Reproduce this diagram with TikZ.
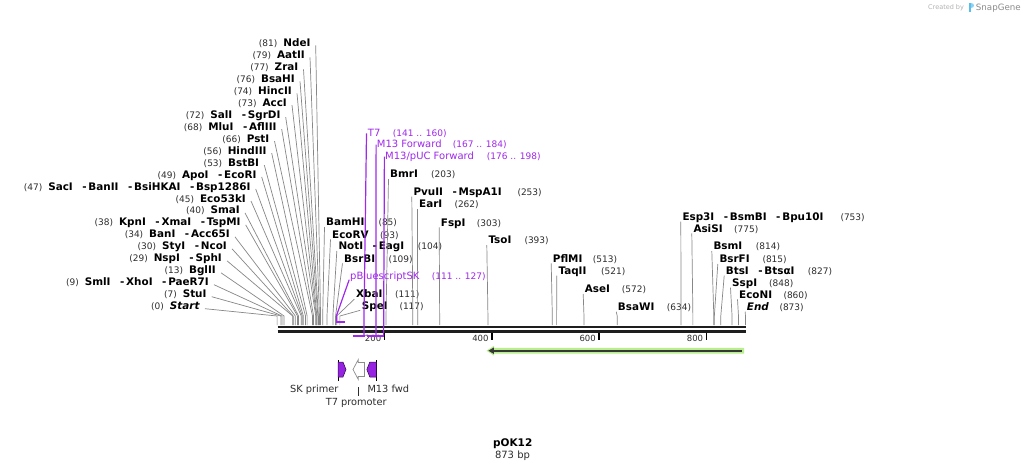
\documentclass[tikz,border=0pt]{standalone}
\usepackage{fontspec}
\setmainfont{DejaVu Sans}
\usetikzlibrary{arrows.meta}
\definecolor{numc}{RGB}{45,45,45}
\definecolor{sitec}{RGB}{135,135,135}
\definecolor{prim}{RGB}{160,40,235}
\definecolor{primfill}{RGB}{150,35,225}
\definecolor{orfg}{RGB}{185,238,140}
\definecolor{orfd}{RGB}{55,55,55}
\definecolor{bb}{RGB}{30,30,30}
\definecolor{logoblue}{RGB}{90,190,235}
\tikzset{
  nm/.style={inner sep=0pt, font=\fontsize{10.4}{12}\selectfont\bfseries, text=black},
  nb/.style={inner sep=0pt, font=\fontsize{9}{10}\selectfont, text=numc},
  sl/.style={draw=sitec, line width=0.7pt},
  pl/.style={draw=prim, line width=1.2pt},
  ptx/.style={inner sep=0pt, font=\fontsize{10}{12}\selectfont, text=prim},
  pnx/.style={inner sep=0pt, font=\fontsize{9}{10}\selectfont, text=prim},
  ftx/.style={inner sep=0pt, font=\fontsize{9.8}{12}\selectfont, text=numc},
  tk/.style={draw=black, line width=1.6pt},
  tkl/.style={inner sep=0pt, font=\fontsize{8.5}{10}\selectfont, text=numc, anchor=base east},
}
\newcommand\numsm[1]{{\color{numc}\fontsize{9}{10}\selectfont\mdseries (#1)}}
\newcommand\sepd{\hspace{9.5pt}-\hspace{1.8pt}}
% id, right x, y, number, names, bp
\newcommand\leftsite[6]{%
  \node[nm, anchor=base east] (#1) at (#2,#3+3.7) {\numsm{#4}\hspace{6pt}#5};
  \coordinate (#1s) at ({277.1+0.5365*#6},316);
  \coordinate (#1b) at ({277.1+0.5365*#6},325);
  \draw[sl] ([xshift=5pt,yshift=1pt]#1.base east) -- (#1s) -- (#1b);
}
% id, left x, y, names, num x, number, bp
\newcommand\rightsite[7]{%
  \node[nm, anchor=base west] (#1) at (#2,#3+3.7) {#4};
  \node[nb, anchor=base west] (#1n) at (#5,#3+3.7) {(#6)};
  \coordinate (#1s) at ({277.1+0.5365*#7},316);
  \coordinate (#1b) at ({277.1+0.5365*#7},325);
  \draw[sl] ([xshift=-1.5pt,yshift=-1.3pt]#1.base west) -- (#1s) -- (#1b);
}
\begin{document}
\begin{tikzpicture}[x=1pt,y=-1pt]
\useasboundingbox (0,0) rectangle (1025,472);
\fill[white] (0,0) rectangle (1025,472);

% ---- left fan of sites
\leftsite{ndei}{310.7}{42.7}{81}{NdeI}{81}
\leftsite{aatii}{305}{54.7}{79}{AatII}{79}
\leftsite{zrai}{298.5}{66.6}{77}{ZraI}{77}
\leftsite{bsahi}{295}{78.6}{76}{BsaHI}{76}
\leftsite{hincii}{292}{90.6}{74}{HincII}{74}
\leftsite{acci}{287}{102.5}{73}{AccI}{73}
\leftsite{sali}{280.7}{114.5}{72}{SalI\sepd SgrDI}{72}
\leftsite{mlui}{276.7}{126.5}{68}{MluI\sepd AflIII}{68}
\leftsite{psti}{269.5}{138.4}{66}{PstI}{66}
\leftsite{hindiii}{266.7}{150.4}{56}{HindIII}{56}
\leftsite{bstbi}{259.3}{162.4}{53}{BstBI}{53}
\leftsite{apoi}{256.7}{174.3}{49}{ApoI\sepd EcoRI}{49}
\leftsite{saci}{250.7}{186.3}{47}{SacI\sepd BanII\sepd BsiHKAI\sepd Bsp1286I}{47}
\leftsite{ecoki}{246}{198.3}{45}{Eco53kI}{45}
\leftsite{smai}{240}{210.2}{40}{SmaI}{40}
\leftsite{kpni}{240.7}{222.2}{38}{KpnI\sepd XmaI\sepd TspMI}{38}
\leftsite{bani}{230}{234.2}{34}{BanI\sepd Acc65I}{34}
\leftsite{styi}{227}{246.1}{30}{StyI\sepd NcoI}{30}
\leftsite{nspi}{222}{258.1}{29}{NspI\sepd SphI}{29}
\leftsite{bglii}{216}{270.1}{13}{BglII}{13}
\leftsite{smli}{209}{282}{9}{SmlI\sepd XhoI\sepd PaeR7I}{9}
\leftsite{stui}{206.7}{294}{7}{StuI}{7}
\leftsite{start}{200}{306}{0}{\textit{Start}}{0}

% ---- right-hand sites
\rightsite{bamhi}{326}{222}{BamHI}{378.3}{85}{85}
\rightsite{ecorv}{332}{234.3}{EcoRV}{380}{93}{93}
\rightsite{noti}{338.3}{246}{NotI\sepd EagI}{417.7}{104}{104}
\rightsite{bsrbi}{344}{258.3}{BsrBI}{388.3}{109}{109}
\rightsite{xbai}{356}{294}{XbaI}{395}{111}{111}
\rightsite{spei}{361.7}{305.3}{SpeI}{399.3}{117}{117}
\rightsite{bmri}{390}{174}{BmrI}{431}{203}{203}
\rightsite{pvuii}{413.3}{191.7}{PvuII\sepd MspA1I}{517.3}{253}{253}
\rightsite{eari}{419}{204}{EarI}{454.3}{262}{262}
\rightsite{fspi}{440.7}{222.3}{FspI}{476.7}{303}{303}
\rightsite{tsoi}{488.3}{240}{TsoI}{524.3}{393}{393}
\rightsite{pflmi}{552.7}{258.3}{PflMI}{592.7}{513}{513}
\rightsite{taqii}{558.3}{270.7}{TaqII}{601}{521}{521}
\rightsite{asei}{584.7}{289}{AseI}{621.7}{572}{572}
\rightsite{bsawi}{617.7}{306.7}{BsaWI}{666.7}{634}{634}
\rightsite{espi}{682.3}{216.7}{Esp3I\sepd BsmBI\sepd Bpu10I}{840.3}{753}{753}
\rightsite{asisi}{693.3}{228.3}{AsiSI}{734}{775}{775}
\rightsite{bsmi}{713.3}{246}{BsmI}{755.7}{814}{814}
\rightsite{bsrfi}{719.3}{259}{BsrFI}{762.3}{815}{815}
\rightsite{btsi}{725.7}{270.7}{BtsI\sepd BtsαI}{807.7}{827}{827}
\rightsite{sspi}{732}{282.7}{SspI}{769}{848}{848}
\rightsite{econi}{739}{294.3}{EcoNI}{783.3}{860}{860}
\rightsite{endl}{746.7}{306.7}{\textit{End}}{779.3}{873}{873}

% ---- backbone
\coordinate (bbl1) at (277.5,327);
\coordinate (bbr1) at (746,327);
\coordinate (bbl2) at (277.5,331.3);
\coordinate (bbr2) at (746,331.3);
\draw[bb, line width=2.8pt] (bbl1) -- (bbr1);
\draw[bb, line width=2.8pt] (bbl2) -- (bbr2);

% ---- ruler ticks
\foreach \t in {200,400,600,800}{
  \coordinate (tka\t) at ({277.1+0.5365*\t},332.5);
  \coordinate (tkb\t) at ({277.1+0.5365*\t},339.5);
  \draw[tk] (tka\t) -- (tkb\t);
  \node[tkl] (tkl\t) at ({277.1+0.5365*\t-3},341.3) {\t};
}

% ---- primer-binding features (purple)
\node[ptx, anchor=base west] (t7) at (367.7,136.4) {T7};
\node[pnx, anchor=base west] (t7n) at (392.7,136.4) {(141 .. 160)};
\node[ptx, anchor=base west] (m13) at (376.7,147.7) {M13 Forward};
\node[pnx, anchor=base west] (m13n) at (452.7,147.7) {(167 .. 184)};
\node[ptx, anchor=base west] (m13p) at (385,159.7) {M13/pUC Forward};
\node[pnx, anchor=base west] (m13pn) at (486.7,159.7) {(176 .. 198)};
\node[ptx, anchor=base west] (pbs) at (350,279.7) {pBluescriptSK};
\node[pnx, anchor=base west] (pbsn) at (431.7,279.7) {(111 .. 127)};

\coordinate (t7a) at (364,316); \coordinate (t7b) at (364,336); \coordinate (t7c) at (352.7,336);
\draw[pl] ([xshift=-1.2pt,yshift=3pt]t7.base west) -- (t7a) -- (t7b);
\draw[draw=prim, line width=2pt] (t7c) -- ([xshift=0.6pt]t7b);
\coordinate (m13a) at (376,336); \coordinate (m13c) at (366.7,336);
\draw[pl] ([xshift=-0.6pt,yshift=3pt]m13.base west) -- (m13a);
\draw[draw=prim, line width=2pt] (m13c) -- ([xshift=0.6pt]m13a);
\coordinate (m13pa) at (383.6,336); \coordinate (m13pc) at (371.5,336);
\draw[pl] ([xshift=-0.6pt,yshift=3pt]m13p.base west) -- (m13pa);
\draw[draw=prim, line width=2pt] (m13pc) -- ([xshift=0.6pt]m13pa);
\coordinate (pbsa) at (336.7,315); \coordinate (pbsb) at (336.7,322); \coordinate (pbsc) at (345.2,322);
\draw[pl] ([xshift=-0.8pt,yshift=0pt]pbs.base west) -- (pbsa) -- (pbsb);
\draw[draw=prim, line width=2pt] ([xshift=-0.6pt]pbsb) -- (pbsc);

% ---- ORF arrow
\fill[orfg] (744,347.9) -- (494,347.9) -- (494,345.8) -- (486.5,350.7) -- (494,355.6) -- (494,353.5) -- (744,353.5) -- cycle;
\coordinate (orfr) at (742,350.7);
\coordinate (orfl) at (488.3,350.7);
\draw[orfd, line width=2pt, -{Triangle[length=5.5pt,width=6pt]}] (orfr) -- (orfl);

% ---- small features below
\draw[black, line width=0.8pt] (338,360) -- (338,381);
\filldraw[fill=primfill, draw=black!70!primfill, line width=0.5pt] (338,362) -- (343,362) -- (346,369.5) -- (343,377) -- (338,377) -- cycle;
\filldraw[fill=white, draw=black!45, line width=0.7pt] (353,369.5) -- (358.3,359.5) -- (358.3,362.5) -- (364.5,362.5) -- (364.5,376.5) -- (358.3,376.5) -- (358.3,379.5) -- cycle;
\draw[black, line width=0.8pt] (376.4,360) -- (376.4,381);
\filldraw[fill=primfill, draw=black!70!primfill, line width=0.5pt] (366.8,369.5) -- (369.8,362) -- (376.4,362) -- (376.4,377) -- (369.8,377) -- cycle;

\node[ftx, anchor=base] (skp) at (314.3,392.5) {SK primer};
\node[ftx, anchor=base] (m13f) at (388.3,392.5) {M13 fwd};
\node[ftx, anchor=base] (t7p) at (356.2,405) {T7 promoter};
\coordinate (t7pt) at (358.4,387.3);
\draw[numc, line width=0.6pt] (t7pt) -- ([yshift=1.5pt]t7p.north -| t7pt);

% ---- title
\node[inner sep=0pt, font=\fontsize{10.5}{12}\selectfont\bfseries] (title) at (512.7,444) {pOK12};
\node[inner sep=0pt, font=\fontsize{10}{12}\selectfont, text=numc] (len) at (512.5,455.8) {873 bp};

% ---- logo
\node[inner sep=0pt, font=\fontsize{6.5}{8}\selectfont, text=black!30, anchor=base west] (crt) at (928,9.8) {Created by};
\fill[logoblue] (968.6,2.5) rectangle (970.6,12.3);
\fill[logoblue!70] (970.6,2.5) .. controls (974.5,2.5) and (974.5,8) .. (970.6,8) -- cycle;
\node[inner sep=0pt, font=\fontsize{8.7}{10}\selectfont, text=black!45, anchor=base west] (snap) at (975.7,10.4) {SnapGene};
\end{tikzpicture}
\end{document}
